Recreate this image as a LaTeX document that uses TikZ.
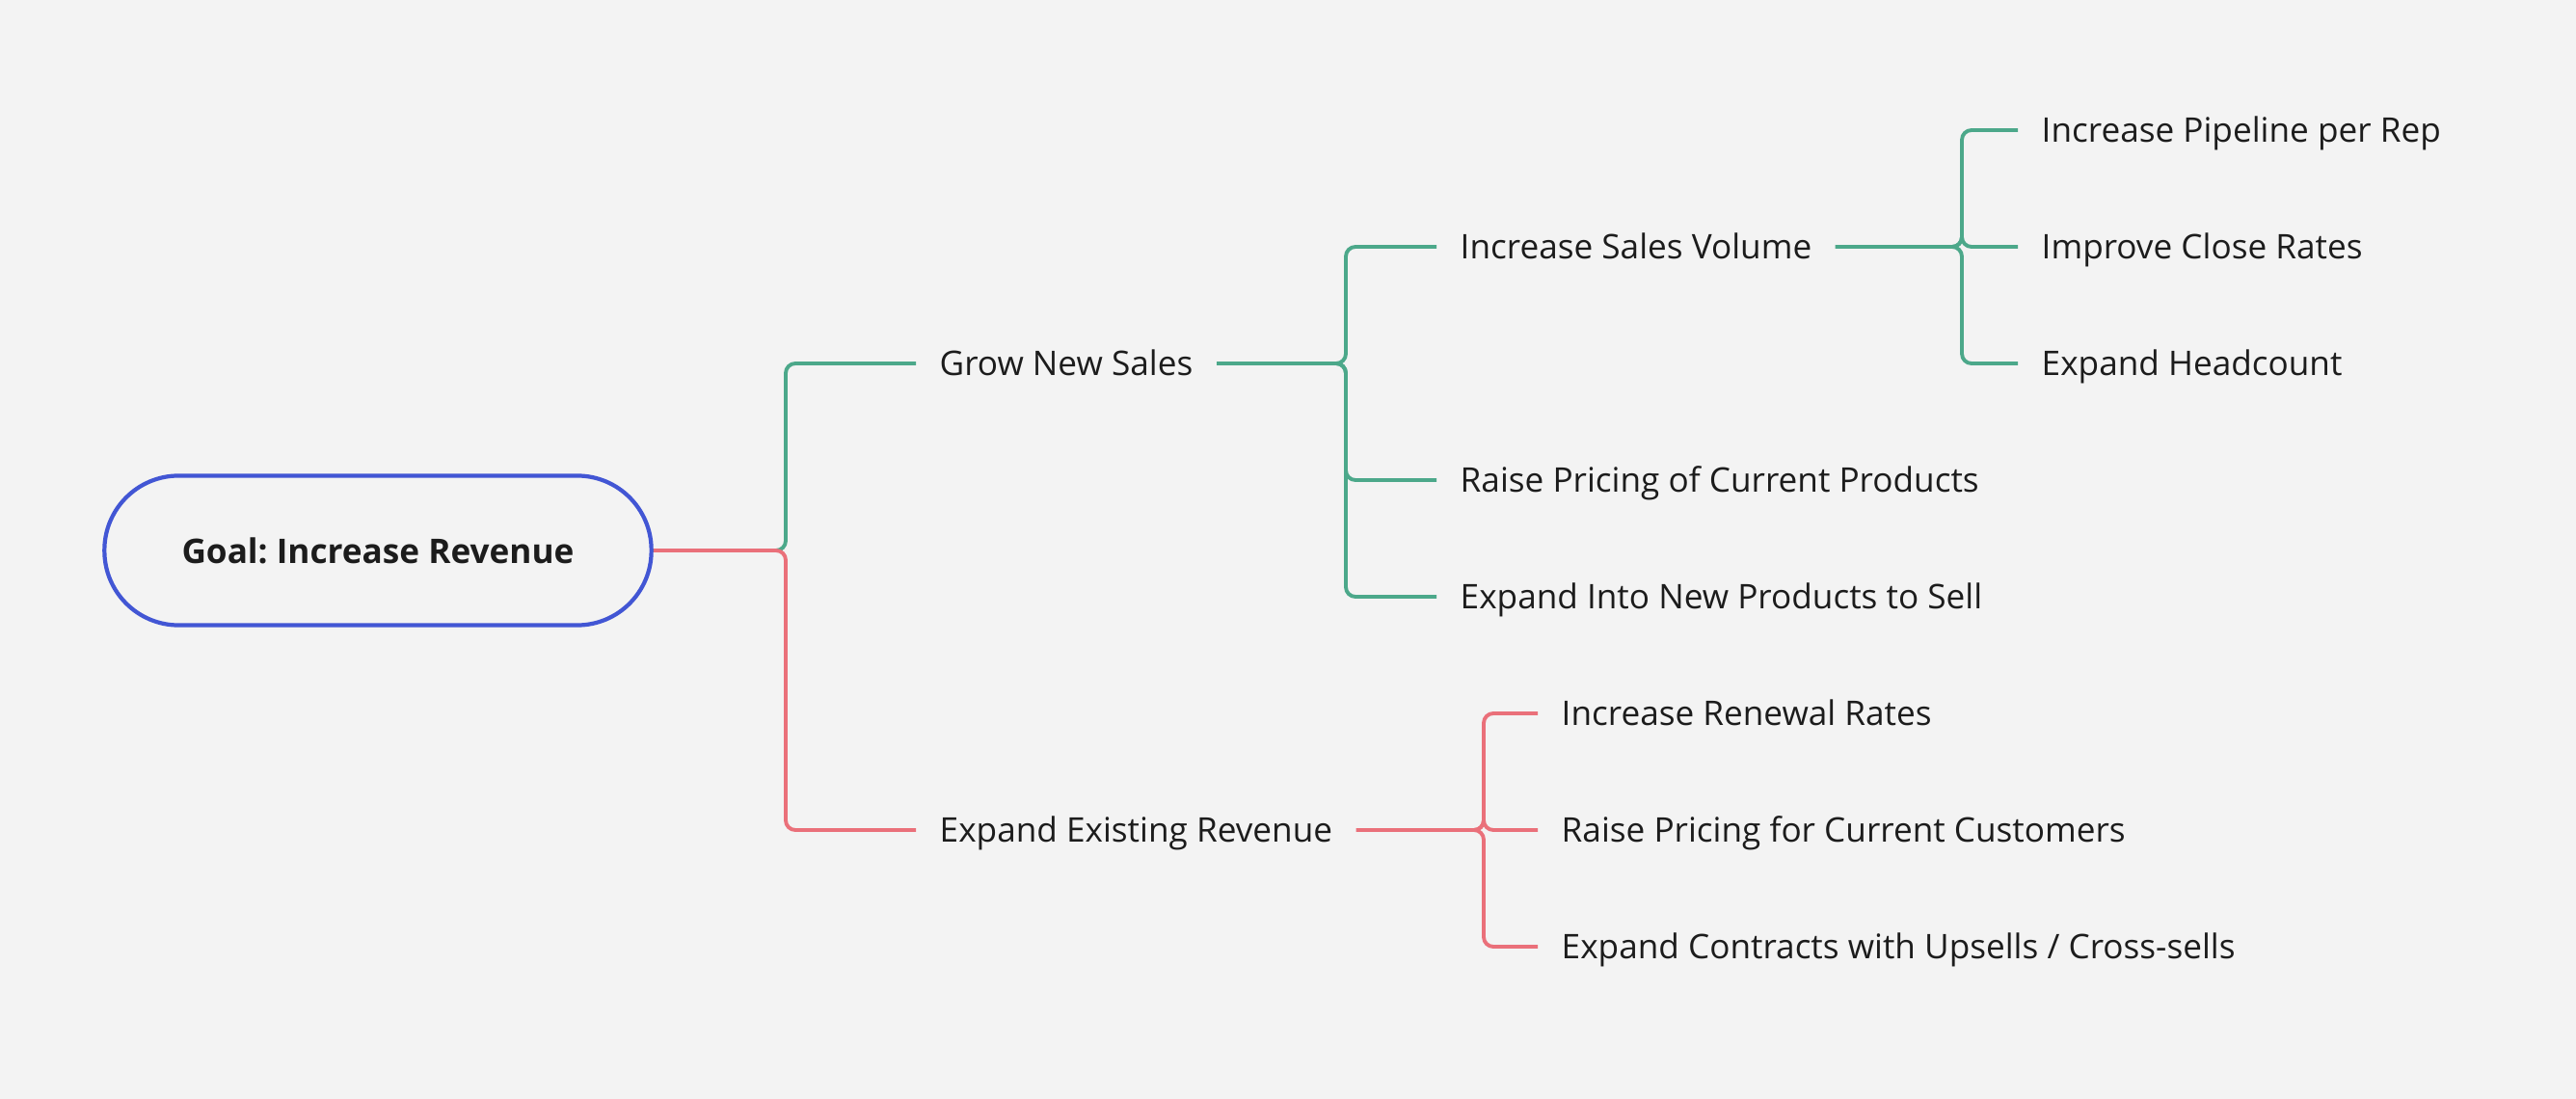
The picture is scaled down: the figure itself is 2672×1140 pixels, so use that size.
\documentclass[tikz,border=0pt]{standalone}
\usepackage{fontspec}
\setmainfont{Open Sans}
\usepackage{xcolor}
\usetikzlibrary{positioning}
\definecolor{bgcol}{RGB}{243,243,243}
\definecolor{ink}{RGB}{28,28,28}
\definecolor{goalblue}{RGB}{66,86,212}
\definecolor{linegreen}{RGB}{76,168,138}
\definecolor{linered}{RGB}{234,112,122}
\frenchspacing

\begin{document}
\begin{tikzpicture}[x=0.01cm,y=-0.01cm]
\tikzstyle{goalbox}=[draw=goalblue,line width=1.2pt,rounded corners=0.77cm,minimum width=5.67cm,minimum height=1.55cm,inner sep=0pt,font=\fontsize{10}{12}\selectfont\bfseries,text=ink]
\tikzstyle{topic}=[anchor=west,inner xsep=0.24cm,inner ysep=0pt,text height=0.92em,text depth=0.2em,font=\fontsize{10}{12}\selectfont,text=ink]
\tikzstyle{link}=[draw,line width=1.1pt,rounded corners=0.1cm]
\tikzstyle{grn}=[link,linegreen]
\tikzstyle{rd}=[link,linered]
\fill[bgcol] (0,0) rectangle (2672,1140);
\node[goalbox] (goal) at (392,571) {Goal: Increase Revenue};
% branch topics
\foreach \pos/\name/\txt in {{(950,377)/grow/Grow New Sales},{(950,861)/expand/Expand Existing Revenue},
  {(1490,256)/volume/Increase Sales Volume},{(1490,498)/pricing/Raise Pricing of Current Products},
  {(1490,619)/newprod/Expand Into New Products to Sell},
  {(2093,135)/pipeline/Increase Pipeline per Rep},{(2093,256)/closerate/Improve Close Rates},
  {(2093,377)/headcount/Expand Headcount},
  {(1595,740)/renewal/Increase Renewal Rates},{(1595,861)/custprice/Raise Pricing for Current Customers},
  {(1595,982)/upsell/{Expand Contracts with Upsells / Cross-sells}}}
  \node[topic] (\name) at \pos {\txt};
\coordinate (j0) at (815,571);
\coordinate (j1) at (1396,377);
\coordinate (j2) at (2035,256);
\coordinate (j3) at (1539,861);
\path[grn] (goal.east) -- (j0) |- (grow.west);
\path[rd] (goal.east) -- (j0) |- (expand.west);
\foreach \child in {volume,pricing,newprod}
  \path[grn] (grow.east) -- (j1) |- (\child.west);
\foreach \child in {pipeline,closerate,headcount}
  \path[grn] (volume.east) -- (j2) |- (\child.west);
\foreach \child in {renewal,custprice,upsell}
  \path[rd] (expand.east) -- (j3) |- (\child.west);
\end{tikzpicture}
\end{document}
